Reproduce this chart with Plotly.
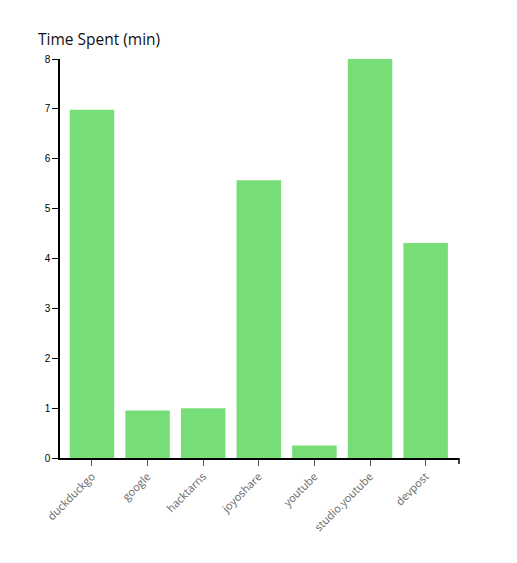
import plotly.graph_objects as go

sites = ["duckduckgo", "google", "hacktarns", "joyoshare", "youtube", "studio.youtube", "devpost"]
minutes = [6.98, 0.95, 1.0, 5.57, 0.25, 8.0, 4.31]
y_ticks = [0, 1, 2, 3, 4, 5, 6, 7, 8]

# page body has an 8px margin, so the figure is offset by 8px
OFF = 8
W, H = 517 - OFF, 563 - OFF
L, T = 60 - OFF, 59 - OFF
pw, ph = 399, 399
R = W - L - pw
B = H - T - ph

fig = go.Figure(go.Bar(
    x=list(range(len(sites))),
    y=minutes,
    marker=dict(color="#77dd77", line=dict(width=0)),
    width=0.8,
    hoverinfo="skip",
))

fig.update_layout(
    width=W, height=H,
    margin=dict(l=L, r=R, t=T, b=B, pad=0),
    paper_bgcolor="white",
    plot_bgcolor="white",
    showlegend=False,
    xaxis=dict(
        range=[-0.575, 6.6],
        tickmode="array",
        tickvals=list(range(len(sites))),
        ticktext=sites,
        tickangle=-45,
        ticks="outside", ticklen=6, tickcolor="#555", tickwidth=1,
        showline=True, linecolor="black", linewidth=1.5,
        showgrid=False, zeroline=False,
        tickfont=dict(family="Open Sans", size=11, color="#666"),
        fixedrange=True,
    ),
    yaxis=dict(
        range=[0, 8],
        tickmode="array",
        tickvals=y_ticks,
        ticktext=[str(v) for v in y_ticks],
        ticks="outside", ticklen=6, tickcolor="black", tickwidth=1,
        showline=True, linecolor="black", linewidth=1.5,
        showgrid=False, zeroline=False,
        tickfont=dict(family="Liberation Sans", size=10, color="black"),
        fixedrange=True,
    ),
    annotations=[dict(
        text="Time Spent (min)",
        xref="paper", yref="paper",
        x=-24 / pw, y=1 + 7 / ph,
        xanchor="left", yanchor="bottom",
        showarrow=False,
        font=dict(family="Open Sans", size=15.5, color="#111"),
    )],
    shapes=[
        dict(type="line", xref="paper", yref="paper",
             x0=1, x1=1, y0=0, y1=-6 / ph,
             line=dict(color="black", width=1.5)),
    ],
)

fig.write_html("out.html", config={"displayModeBar": False})
